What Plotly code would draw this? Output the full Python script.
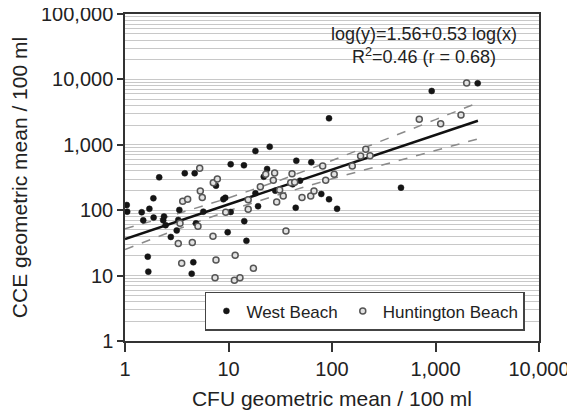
import plotly.graph_objects as go
import numpy as np

# West Beach (filled markers): CFU x, CCE y
west_x = [1.04, 1.05, 1.45, 1.72, 1.88, 2.14, 1.50, 1.89, 2.34, 2.38, 2.47, 2.77, 1.66, 1.68,
          3.35, 3.27, 3.16, 3.78, 4.71, 5.71, 4.85, 4.57, 4.41, 7.57, 8.91, 9.31, 10.5, 10.5,
          14.1, 18.2, 25.0, 9.82, 14.9, 14.2, 18.2, 19.3, 21.9, 23.6, 28.3, 45.2, 41.7, 49.1,
          44.6, 63.1, 78.8, 93.6, 112, 464, 93.6, 919, 2557]
west_y = [120, 95, 93, 105, 152, 318, 70, 77, 70, 80, 59, 39, 19.5, 11.5,
          101, 71, 49, 367, 367, 95, 63, 16, 10.7, 237, 147, 155, 94, 504,
          486, 804, 935, 46, 34, 68, 181, 115, 325, 427, 199, 571, 249, 283,
          109, 540, 177, 147, 105, 221, 2540, 6650, 8710]

# Huntington Beach (open markers)
hunt_x = [3.40, 3.27, 3.61, 4.03, 5.27, 5.34, 5.58, 5.07, 4.47, 3.53,
          7.13, 7.80, 9.40, 7.08, 7.57, 7.41, 11.6, 11.4, 12.9, 17.4,
          15.5, 15.5, 20.3, 22.9, 27.9, 27.1, 31.2, 29.2, 33.8, 35.9,
          41.1, 39.9, 43.6, 51.3, 62.3, 67.0, 81.3, 86.9, 105, 157,
          189, 212, 233, 697, 1122, 1763, 2000]
hunt_y = [63, 31, 137, 147, 437, 197, 157, 57, 32, 15.4,
          263, 300, 93, 40, 17.3, 9.3, 20.4, 8.5, 9.3, 12.9,
          145, 103, 229, 354, 370, 287, 204, 133, 165, 48,
          361, 263, 267, 157, 165, 197, 474, 287, 354, 474,
          674, 853, 681, 2455, 2100, 2857, 8810]

# Regression: log(y) = 1.56 + 0.53 log(x)
fit_intercept = 1.56
fit_slope = 0.53
fit_x = [1, 2570]

# Confidence band
band_x = [1, 3.2, 10, 32, 100, 320, 1000, 2570]
band_upper = [52, 88, 154, 290, 575, 1175, 2430, 4400]
band_lower = [25, 51, 98, 177, 302, 500, 820, 1230]

x_ticks = [1, 10, 100, 1000, 10000]
x_ticktext = ["1", "10", "100", "1,000", "10,000"]
y_ticks = [1, 10, 100, 1000, 10000, 100000]
y_ticktext = ["1", "10", "100", "1,000", "10,000", "100,000"]

FONT = "Liberation Sans, Arial, sans-serif"

fit_y = [10 ** (fit_intercept + fit_slope * np.log10(v)) for v in fit_x]

fig = go.Figure()
for band in (band_upper, band_lower):
    fig.add_trace(go.Scatter(x=band_x, y=band, mode="lines", showlegend=False,
                             line=dict(color="#8a8a8a", width=1.5, dash="dash"),
                             hoverinfo="skip"))
fig.add_trace(go.Scatter(x=fit_x, y=fit_y, mode="lines", showlegend=False,
                         line=dict(color="#111111", width=2.5), hoverinfo="skip"))
fig.add_trace(go.Scatter(x=west_x, y=west_y, mode="markers", name="West Beach",
                         marker=dict(symbol="circle", size=6, color="#151515",
                                     line=dict(color="#151515", width=0.5))))
fig.add_trace(go.Scatter(x=hunt_x, y=hunt_y, mode="markers", name="Huntington Beach",
                         marker=dict(symbol="circle", size=6, color="#e2e2e2",
                                     line=dict(color="#555555", width=1.5))))

fig.add_annotation(xref="paper", yref="paper", x=0.722, y=0.905,
                   text="log(y)=1.56+0.53 log(x)<br>R<sup>2</sup>=0.46 (r = 0.68)",
                   showarrow=False, align="center", xanchor="center", yanchor="middle",
                   font=dict(family=FONT, size=18, color="#222222"))

# page body adds an 8px offset; margins compensate so the plot area sits at 125..539 x 14..341
fig.update_layout(
    width=575, height=413,
    margin=dict(l=117, r=44, t=6, b=80),
    paper_bgcolor="white", plot_bgcolor="white",
    font=dict(family=FONT, color="#222222"),
    legend=dict(x=0.966, y=0.031, xanchor="right", yanchor="bottom",
                orientation="h", bgcolor="white", bordercolor="#444444",
                borderwidth=1.5, font=dict(family=FONT, size=17, color="#222222"),
                itemwidth=30),
    xaxis=dict(type="log", range=[0, 4], tickvals=x_ticks, ticktext=x_ticktext,
               ticks="outside", ticklen=9, tickwidth=1.5, tickcolor="#333333",
               showline=True, linecolor="#333333", linewidth=1.5, mirror=True,
               showgrid=False, zeroline=False, automargin=False,
               ticklabeloverflow="allow",
               tickfont=dict(family=FONT, size=20, color="#222222"),
               title=dict(text="CFU geometric mean / 100 ml", standoff=13,
                          font=dict(family=FONT, size=21, color="#222222"))),
    yaxis=dict(type="log", range=[0, 5], tickvals=y_ticks, ticktext=y_ticktext,
               ticks="outside", ticklen=6, tickwidth=1.5, tickcolor="#333333",
               showline=True, linecolor="#333333", linewidth=1.5, mirror=True,
               showgrid=True, gridcolor="#c8c8c8", gridwidth=1, zeroline=False,
               automargin=False, ticklabeloverflow="allow",
               minor=dict(dtick="D1", showgrid=True, gridcolor="#c8c8c8", gridwidth=1,
                          ticks=""),
               tickfont=dict(family=FONT, size=20, color="#222222"),
               title=dict(text="CCE geometric mean / 100 ml", standoff=24,
                          font=dict(family=FONT, size=21, color="#222222"))),
)

fig.write_html("out.html")
